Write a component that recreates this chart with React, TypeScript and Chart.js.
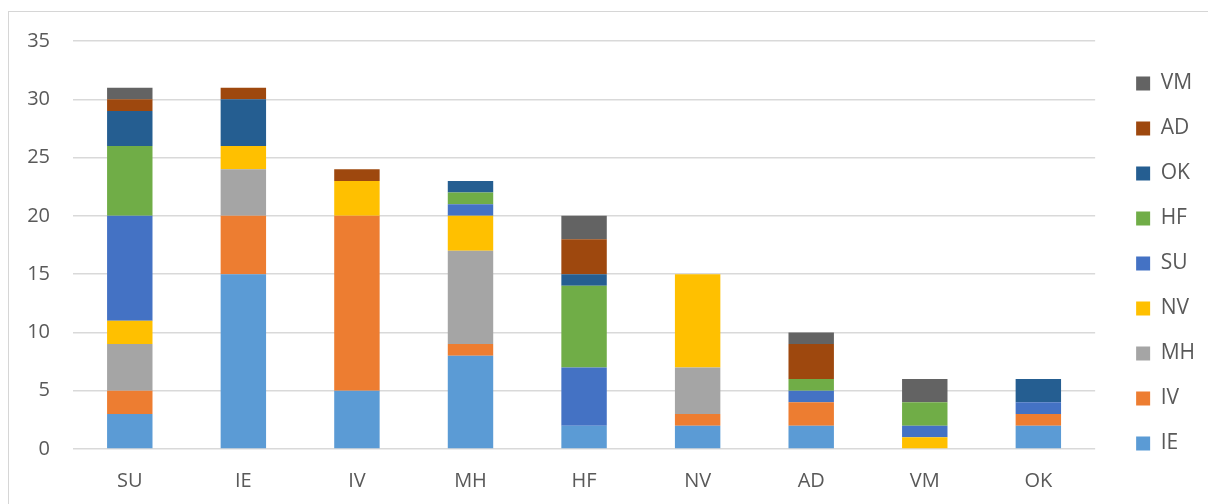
import React, { useEffect, useRef } from "react";
import { Chart, registerables } from "chart.js";

Chart.register(...registerables);

const categories = ["SU", "IE", "IV", "MH", "HF", "NV", "AD", "VM", "OK"];

const seriesNames = ["IE", "IV", "MH", "NV", "SU", "HF", "OK", "AD", "VM"];
const seriesColors = ["#5B9BD5", "#ED7D31", "#A5A5A5", "#FFC000", "#4472C4", "#70AD47", "#255E91", "#9E480E", "#636363"];

const valuesIE = [3, 15, 5, 8, 2, 2, 2, 0, 2];
const valuesIV = [2, 5, 15, 1, 0, 1, 2, 0, 1];
const valuesMH = [4, 4, 0, 8, 0, 4, 0, 0, 0];
const valuesNV = [2, 2, 3, 3, 0, 8, 0, 1, 0];
const valuesSU = [9, 0, 0, 1, 5, 0, 1, 1, 1];
const valuesHF = [6, 0, 0, 1, 7, 0, 1, 2, 0];
const valuesOK = [3, 4, 0, 1, 1, 0, 0, 0, 2];
const valuesAD = [1, 1, 1, 0, 3, 0, 3, 0, 0];
const valuesVM = [1, 0, 0, 0, 2, 0, 1, 2, 0];

const seriesValues = [valuesIE, valuesIV, valuesMH, valuesNV, valuesSU, valuesHF, valuesOK, valuesAD, valuesVM];

const yTicks = [0, 5, 10, 15, 20, 25, 30, 35];

export default function App() {
  const canvasRef = useRef<HTMLCanvasElement | null>(null);

  useEffect(() => {
    if (!canvasRef.current) return;
    const textColor = "#595959";
    const fontFamily = "'Open Sans', sans-serif";
    const chart = new Chart(canvasRef.current, {
      type: "bar",
      data: {
        labels: categories,
        datasets: seriesNames.map((name, i) => ({
          label: name,
          data: seriesValues[i],
          backgroundColor: seriesColors[i],
          borderWidth: 0,
          yAxisID: "y",
          categoryPercentage: 0.4,
          barPercentage: 1,
        })),
      },
      options: {
        animation: false,
        responsive: true,
        maintainAspectRatio: false,
        layout: { padding: { left: 0, top: 29, right: 3, bottom: 11 } },
        plugins: {
          tooltip: { enabled: false },
          legend: {
            position: "right",
            align: "start",
            reverse: true,
            title: {
              display: true,
              text: "",
              padding: 0,
              font: { size: 8, lineHeight: 1 },
            },
            labels: {
              boxWidth: 14,
              boxHeight: 14,
              padding: 24,
              color: textColor,
              font: { family: fontFamily, size: 21 },
            },
          },
        },
        scales: {
          x: {
            stacked: true,
            grid: { display: false, drawTicks: false },
            border: { display: false },
            ticks: {
              color: textColor,
              padding: 20,
              font: { family: fontFamily, size: 20 },
            },
            afterFit: (s: any) => {
              s.height = 44;
            },
          },
          y: {
            stacked: true,
            min: 0,
            max: 35,
            afterBuildTicks: (s: any) => {
              s.ticks = yTicks.map((v) => ({ value: v }));
            },
            grid: { color: "#d9d9d9", lineWidth: 1.5, drawTicks: false },
            border: { display: false },
            ticks: {
              color: textColor,
              padding: 23,
              font: { family: fontFamily, size: 20 },
            },
            afterFit: (s: any) => {
              s.width = 64;
              s.paddingTop = 0;
              s.paddingBottom = 0;
            },
          },
          y2: {
            type: "linear",
            axis: "y",
            position: "right",
            display: true,
            grid: { display: false, drawTicks: false },
            border: { display: false },
            ticks: { display: false },
            afterFit: (s: any) => {
              s.width = 17;
            },
          },
        },
      } as any,
    });
    return () => chart.destroy();
  }, []);

  return (
    <div
      style={{
        position: "absolute",
        left: 8,
        top: 11,
        width: 1200,
        height: 493,
        boxSizing: "border-box",
        borderLeft: "1px solid #d6d6d6",
        borderTop: "1px solid #d6d6d6",
        background: "#ffffff",
      }}
    >
      <div style={{ position: "relative", width: 1199, height: 492 }}>
        <canvas ref={canvasRef} />
      </div>
    </div>
  );
}
